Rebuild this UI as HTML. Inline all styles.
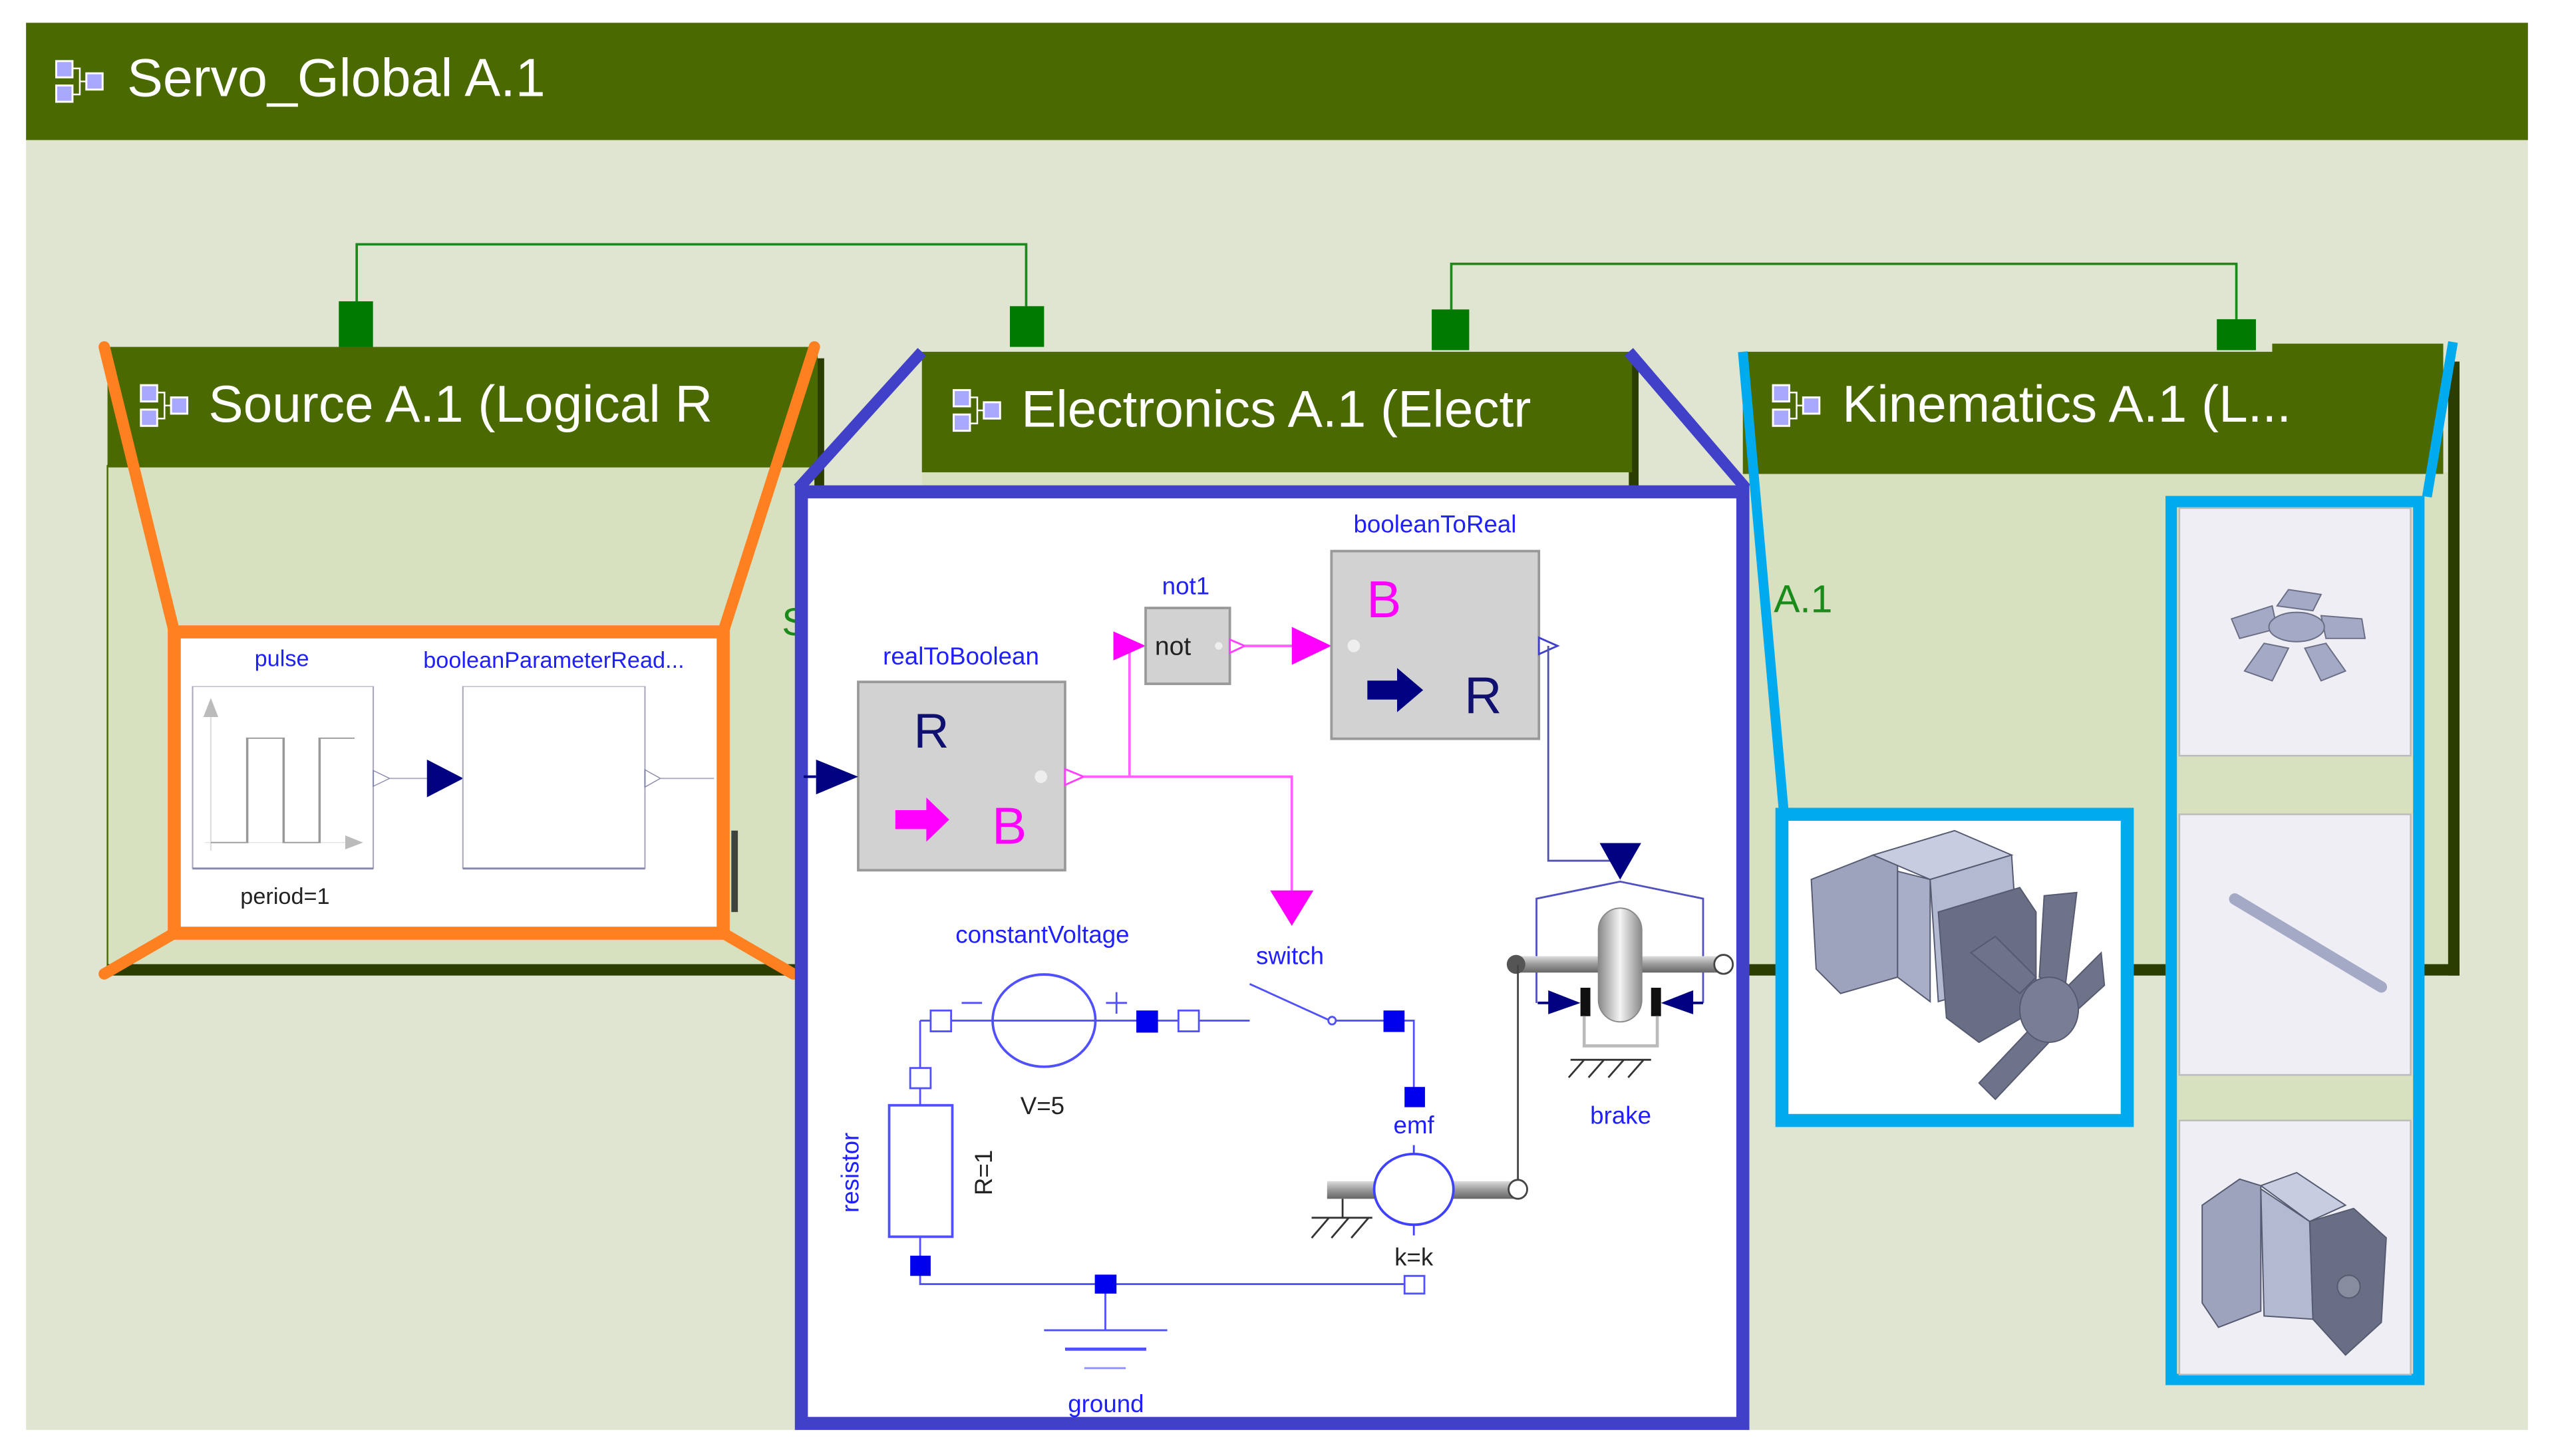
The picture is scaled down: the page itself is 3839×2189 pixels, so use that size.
<!DOCTYPE html>
<html><head><meta charset="utf-8"><style>
html,body{margin:0;padding:0;background:#fff;}
svg{display:block;}
text{font-family:"Liberation Sans",sans-serif;}
</style></head><body>
<svg width="3839" height="2189" viewBox="0 0 1568 894" preserveAspectRatio="none" xmlns="http://www.w3.org/2000/svg">
<defs>
<g id="ic">
 <path d="M11 5 H15 V21 H11 M15 13 H19" stroke="#fff" stroke-width="1" fill="none"/>
 <rect x="0.5" y="0.5" width="10" height="10" fill="#a8a8ff" stroke="#fff" stroke-width="1.2"/>
 <rect x="0.5" y="15.5" width="10" height="10" fill="#a8a8ff" stroke="#fff" stroke-width="1.2"/>
 <rect x="19" y="8" width="10" height="10" fill="#a8a8ff" stroke="#fff" stroke-width="1.2"/>
</g>
<linearGradient id="sh" x1="0" y1="0" x2="0" y2="1"><stop offset="0" stop-color="#ddd"/><stop offset="0.5" stop-color="#999"/><stop offset="1" stop-color="#666"/></linearGradient>
<linearGradient id="dk" x1="0" y1="0" x2="1" y2="0"><stop offset="0" stop-color="#888"/><stop offset="0.5" stop-color="#f4f4f4"/><stop offset="1" stop-color="#888"/></linearGradient>
</defs>
<rect x="16" y="14" width="1536" height="864" fill="#e0e5d2"/>
<rect x="16" y="14" width="1536" height="72" fill="#4a6900"/>
<use href="#ic" x="34" y="37"/>
<text x="78" y="59" font-size="33" fill="#fff">Servo_Global A.1</text>

<path d="M219 186 V150 H630 V188" stroke="#1a8a1a" stroke-width="1.5" fill="none"/>
<path d="M891 190 V162 H1373 V196" stroke="#1a8a1a" stroke-width="1.5" fill="none"/>
<rect x="208" y="185" width="21" height="28" fill="#007a00"/>
<rect x="620" y="188" width="21" height="25" fill="#007a00"/>
<rect x="879" y="190" width="23" height="25" fill="#007a00"/>
<rect x="1361" y="196" width="24" height="19" fill="#007a00"/>

<rect x="66" y="286" width="438" height="310" fill="#d7e0bf" stroke="#4a6900" stroke-width="1"/>
<rect x="66" y="592" width="438" height="7" fill="#2b3d00"/>
<rect x="500" y="220" width="6" height="376" fill="#2b3d00"/>
<rect x="66" y="213" width="436" height="74" fill="#4a6900"/>
<use href="#ic" x="86" y="236"/>
<text x="128" y="259" font-size="32" fill="#fff">Source A.1 (Logical R</text>

<rect x="566" y="289" width="437" height="20" fill="#d7e0bf"/>
<rect x="1000" y="222" width="6" height="80" fill="#2b3d00"/>
<rect x="566" y="216" width="436" height="74" fill="#4a6900"/>
<use href="#ic" x="585" y="239"/>
<text x="627" y="262" font-size="32" fill="#fff">Electronics A.1 (Electr</text>

<rect x="1070" y="290" width="436" height="306" fill="#d7e0bf"/>
<rect x="1503" y="222" width="7" height="377" fill="#2b3d00"/>
<rect x="1070" y="592" width="440" height="7" fill="#2b3d00"/>
<rect x="1070" y="216" width="430" height="75" fill="#4a6900"/>
<rect x="1395" y="211" width="105" height="8" fill="#4a6900"/>
<use href="#ic" x="1088" y="236"/>
<text x="1131" y="259" font-size="32" fill="#fff">Kinematics A.1 (L...</text>
<text x="1089" y="376" font-size="24" fill="#1a8a1a">A.1</text>
<text x="480" y="390" font-size="24" fill="#1a8a1a">S</text>

<g stroke="#ff8020" stroke-width="7" fill="none" stroke-linecap="round">
 <path d="M64 213 L107 388 M500 213 L444 388 M107 573 L64 598 M444 573 L487 598"/>
</g>
<rect x="107" y="388" width="337" height="185" fill="#fff" stroke="#ff8020" stroke-width="8"/>
<rect x="449" y="510" width="4" height="50" fill="#000" opacity="0.7"/>
<g transform="translate(57.2,367.6) scale(0.2866,0.1563)">
 <rect x="213" y="345" width="387" height="715" fill="#fff" stroke="#aab" stroke-width="3"/>
 <path d="M213 1060 H600" stroke="#88a" stroke-width="8"/>
 <path d="M252 990 V450 M240 958 H545" stroke="#ddd" stroke-width="3"/>
 <polygon points="236,465 268,465 252,390" fill="#bbb"/>
 <polygon points="540,930 578,958 540,985" fill="#bbb"/>
 <path d="M252 958 H330 V548 H408 V958 H485 V548 H560" stroke="#999" stroke-width="5" fill="none"/>
 <polygon points="600,675 635,706 600,737" fill="#fff" stroke="#88a" stroke-width="3"/>
 <path d="M635 706 H715" stroke="#aab" stroke-width="5"/>
 <polygon points="715,632 793,706 715,780" fill="#000080"/>
 <rect x="792" y="345" width="390" height="715" fill="#fff" stroke="#aab" stroke-width="3"/>
 <path d="M792 1060 H1182" stroke="#88a" stroke-width="8"/>
 <polygon points="1182,672 1215,706 1182,740" fill="#fff" stroke="#88a" stroke-width="3"/>
 <path d="M1215 706 H1330" stroke="#aab" stroke-width="5"/>
</g>
<text x="173" y="409" font-size="14" fill="#2020ff" text-anchor="middle">pulse</text>
<text x="340" y="410" font-size="14" fill="#2020ff" text-anchor="middle">booleanParameterRead...</text>
<text x="175" y="555" font-size="14" fill="#222" text-anchor="middle">period=1</text>

<g stroke="#4040c8" stroke-width="7" fill="none">
 <path d="M566 216 L490 300 M1000 216 L1072 300"/>
</g>
<rect x="492" y="302" width="578" height="572" fill="#fff" stroke="#4040c8" stroke-width="8"/>
<g transform="translate(482,286) scale(0.3803,0.388)">
 <rect x="118" y="342" width="334" height="298" fill="#d2d2d2" stroke="#999" stroke-width="4"/>
 <polygon points="178,545 228,545 228,525 265,560 228,595 228,575 178,575" fill="#ff00ff"/>
 <polygon points="50,465 118,492 50,520" fill="#000080"/>
 <path d="M30 492 H50" stroke="#000080" stroke-width="4"/>
 <circle cx="413" cy="492" r="10" fill="#eee"/>
 <polygon points="452,480 482,492 452,505" fill="#fff" stroke="#ff40ff" stroke-width="3"/>
 <path d="M482 492 H818 V675 M556 492 V285 H532" stroke="#ff60ff" stroke-width="4" fill="none"/>
 <polygon points="783,672 853,672 818,728" fill="#ff00ff"/>
 <polygon points="530,262 582,285 530,308" fill="#ff00ff"/>
 <rect x="582" y="225" width="136" height="120" fill="#d2d2d2" stroke="#999" stroke-width="4"/>
 <circle cx="700" cy="285" r="6" fill="#eee"/>
 <polygon points="718,275 742,285 718,296" fill="#fff" stroke="#ff40ff" stroke-width="3"/>
 <path d="M742 285 H820" stroke="#ff60ff" stroke-width="4"/>
 <polygon points="818,255 882,285 818,315" fill="#ff00ff"/>
 <rect x="882" y="135" width="335" height="297" fill="#d2d2d2" stroke="#999" stroke-width="4"/>
 <circle cx="918" cy="285" r="10" fill="#eee"/>
 <polygon points="940,340 988,340 988,320 1030,355 988,390 988,370 940,370" fill="#000080"/>
 <polygon points="1217,272 1247,285 1217,298" fill="#fff" stroke="#4040c8" stroke-width="3"/>
 <path d="M1232 285 V625 H1348" stroke="#5050b0" stroke-width="3" fill="none"/>
 <polygon points="1315,597 1382,597 1348,655" fill="#000080"/>
 <path d="M1213 850 V685 L1348 658 L1482 685 V850" stroke="#5050c0" stroke-width="3" fill="none"/>
 <rect x="1180" y="776" width="335" height="26" fill="url(#sh)"/>
 <circle cx="1180" cy="789" r="15" fill="#555"/>
 <circle cx="1515" cy="789" r="15" fill="#fff" stroke="#444" stroke-width="3"/>
 <rect x="1313" y="700" width="70" height="180" rx="35" fill="url(#dk)" stroke="#888" stroke-width="2"/>
 <rect x="1284" y="826" width="16" height="45" fill="#111"/>
 <rect x="1398" y="826" width="16" height="45" fill="#111"/>
 <path d="M1215 850 H1260 M1440 850 H1482" stroke="#000080" stroke-width="4"/>
 <polygon points="1232,830 1284,850 1232,868" fill="#000080"/>
 <polygon points="1466,830 1414,850 1466,868" fill="#000080"/>
 <path d="M1290 871 V918 H1408 V871" stroke="#bbb" stroke-width="5" fill="none"/>
 <path d="M1268 940 H1398 M1265 968 L1290 940 M1297 968 L1322 940 M1329 968 L1354 940 M1361 968 L1386 940" stroke="#333" stroke-width="3"/>
 <path d="M1183 790 V1145" stroke="#444" stroke-width="3"/>
 <rect x="875" y="1132" width="308" height="28" fill="url(#sh)"/>
 <ellipse cx="1015" cy="1145" rx="64" ry="56" fill="#fff" stroke="#4040ff" stroke-width="4"/>
 <circle cx="1183" cy="1145" r="15" fill="#fff" stroke="#444" stroke-width="3"/>
 <path d="M900 1160 V1190 M850 1190 H948 M850 1222 L878 1190 M882 1222 L910 1190 M914 1222 L942 1190" stroke="#333" stroke-width="3"/>
 <path d="M1015 1075 V1089 M1015 1201 V1218" stroke="#4040ff" stroke-width="3"/>
 <g stroke="#5050ff" stroke-width="3" fill="none">
  <path d="M218 878 H750"/>
  <ellipse cx="418" cy="878" rx="83" ry="73" stroke-width="4"/>
  <path d="M285 850 H318 M518 850 H552 M535 833 V867"/>
  <path d="M750 820 L880 878 M888 878 H1015 V985"/>
  <path d="M218 878 V1012 M218 1220 V1295 H1015"/>
  <rect x="168" y="1012" width="102" height="208" stroke-width="4"/>
  <path d="M517 1295 V1368 M418 1368 H617"/>
  <path d="M452 1398 H583" stroke-width="5"/>
  <path d="M483 1428 H550" stroke="#9090ff"/>
 </g>
 <circle cx="883" cy="878" r="6" fill="#fff" stroke="#5050ff" stroke-width="3"/>
 <rect x="235" y="862" width="33" height="33" fill="#fff" stroke="#5050ff" stroke-width="3"/>
 <rect x="567" y="862" width="35" height="35" fill="#0000ee"/>
 <rect x="635" y="862" width="33" height="33" fill="#fff" stroke="#5050ff" stroke-width="3"/>
 <rect x="966" y="862" width="34" height="34" fill="#0000ee"/>
 <rect x="1000" y="983" width="33" height="32" fill="#0000ee"/>
 <rect x="202" y="953" width="33" height="32" fill="#fff" stroke="#5050ff" stroke-width="3"/>
 <rect x="202" y="1250" width="33" height="32" fill="#0000ee"/>
 <rect x="500" y="1280" width="35" height="30" fill="#0000ee"/>
 <rect x="1000" y="1282" width="32" height="28" fill="#fff" stroke="#5050ff" stroke-width="3"/>
</g>
<text x="561" y="459" font-size="30" fill="#101070">R</text>
<text x="609" y="518" font-size="32" fill="#ff00ff">B</text>
<text x="839" y="379" font-size="32" fill="#ff00ff">B</text>
<text x="899" y="438" font-size="32" fill="#101070">R</text>
<text x="709" y="402" font-size="16" fill="#222">not</text>
<text x="590" y="408" font-size="15" fill="#2020ff" text-anchor="middle">realToBoolean</text>
<text x="728" y="365" font-size="15" fill="#2020ff" text-anchor="middle">not1</text>
<text x="881" y="327" font-size="15" fill="#2020ff" text-anchor="middle">booleanToReal</text>
<text x="640" y="579" font-size="15" fill="#2020ff" text-anchor="middle">constantVoltage</text>
<text x="792" y="592" font-size="15" fill="#2020ff" text-anchor="middle">switch</text>
<text x="640" y="684" font-size="15" fill="#222" text-anchor="middle">V=5</text>
<text x="868" y="696" font-size="15" fill="#2020ff" text-anchor="middle">emf</text>
<text x="995" y="690" font-size="15" fill="#2020ff" text-anchor="middle">brake</text>
<text x="868" y="777" font-size="15" fill="#222" text-anchor="middle">k=k</text>
<text x="679" y="867" font-size="15" fill="#2020ff" text-anchor="middle">ground</text>
<text transform="translate(527,720) rotate(-90)" font-size="15" fill="#2020ff" text-anchor="middle">resistor</text>
<text transform="translate(609,720) rotate(-90)" font-size="15" fill="#222" text-anchor="middle">R=1</text>

<g stroke="#00aaee" stroke-width="6" fill="none">
 <path d="M1070 216 L1095 497 M1506 210 L1490 305"/>
</g>
<rect x="1094" y="500" width="212" height="188" fill="#fff" stroke="#00aaee" stroke-width="8"/>
<g stroke="#555a70" stroke-width="0.8">
 <polygon points="1112,540 1150,525 1165,530 1165,600 1130,610 1115,595" fill="#9ea3bd"/>
 <polygon points="1150,525 1200,510 1235,525 1185,540" fill="#c8cce0"/>
 <polygon points="1165,535 1185,540 1185,615 1165,600" fill="#a8adc8"/>
 <polygon points="1185,540 1235,525 1240,600 1190,615" fill="#b4b9d2"/>
 <polygon points="1190,560 1240,545 1250,560 1250,620 1215,640 1195,625" fill="#6a6e85"/>
 <polygon points="1240,610 1210,585 1225,575 1250,600" fill="#6f738a"/>
 <polygon points="1252,600 1255,550 1275,548 1268,605" fill="#6f738a"/>
 <polygon points="1265,610 1290,585 1292,605 1270,625" fill="#6f738a"/>
 <polygon points="1248,630 1215,665 1225,675 1258,640" fill="#6f738a"/>
 <ellipse cx="1258" cy="620" rx="18" ry="20" fill="#7a7e95"/>
</g>
<rect x="1333" y="308" width="152" height="539" fill="#d7e0bf" stroke="#00aaee" stroke-width="7"/>
<rect x="1338" y="312" width="142" height="152" fill="#eeeef4" stroke="#bbb" stroke-width="1"/>
<rect x="1338" y="500" width="142" height="160" fill="#eeeef4" stroke="#bbb" stroke-width="1"/>
<rect x="1338" y="688" width="142" height="156" fill="#eeeef4" stroke="#bbb" stroke-width="1"/>
<g fill="#a4a9c6" stroke="#6a6e85" stroke-width="0.8">
 <polygon points="1370,380 1395,372 1398,386 1375,392"/>
 <polygon points="1425,378 1450,380 1452,392 1428,392"/>
 <polygon points="1390,395 1405,398 1395,418 1378,412"/>
 <polygon points="1415,398 1428,395 1440,412 1425,418"/>
 <polygon points="1398,372 1405,362 1425,365 1420,375"/>
 <ellipse cx="1410" cy="385" rx="17" ry="9"/>
</g>
<path d="M1372 552 L1462 606" stroke="#a4a9c6" stroke-width="7" stroke-linecap="round"/>
<g stroke="#555a70" stroke-width="0.8">
 <polygon points="1352,740 1375,724 1388,728 1388,805 1362,815 1352,800" fill="#9ea3bd"/>
 <polygon points="1388,728 1410,720 1440,740 1418,750" fill="#c8cce0"/>
 <polygon points="1388,730 1418,750 1420,810 1390,808" fill="#b4b9d2"/>
 <polygon points="1418,750 1445,742 1465,760 1462,812 1440,832 1420,810" fill="#6a6e85"/>
 <circle cx="1442" cy="790" r="7" fill="#888c9f"/>
</g>
</svg>
</body></html>
